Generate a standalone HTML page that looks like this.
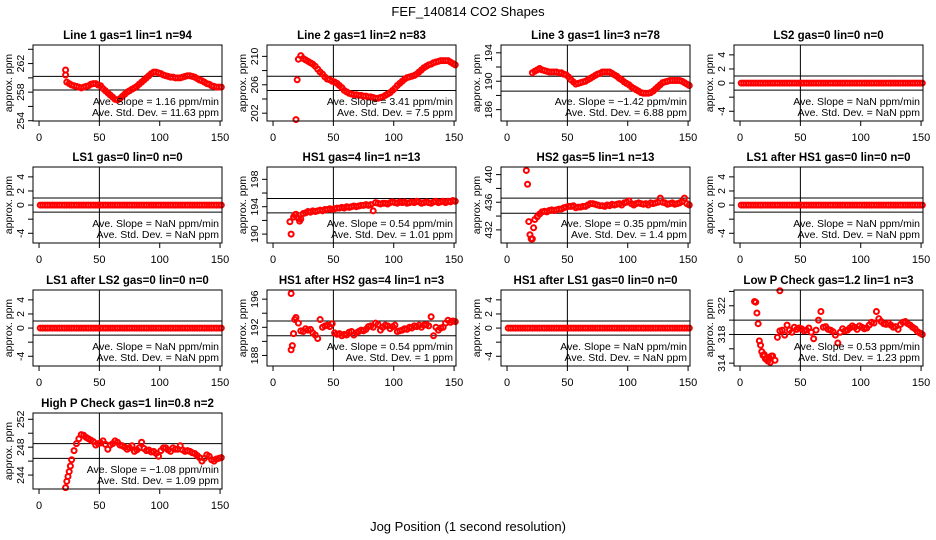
<!DOCTYPE html>
<html><head><meta charset="utf-8"><style>
html,body{margin:0;padding:0;background:#fff;}
svg{display:block;font-family:"Liberation Sans",Arial,sans-serif;}
</style></head><body>
<svg id="chart" width="936" height="540" viewBox="0 0 936 540">
<text x="468" y="16" text-anchor="middle" font-size="13">FEF_140814  CO2 Shapes</text>
<text x="468" y="531" text-anchor="middle" font-size="13">Jog Position (1 second resolution)</text>
</svg>
<script>
const jog = [1,3,5,7,9,11,13,15,17,19,21,23,25,27,29,31,33,35,37,39,41,43,45,47,49,51,53,55,57,59,61,63,65,67,69,71,73,75,77,79,81,83,85,87,89,91,93,95,97,99,101,103,105,107,109,111,113,115,117,119,121,123,125,127,129,131,133,135,137,139,141,143,145,147,149,151];
const xTicks = [0,50,100,150];
const zeroValues = [0,0,0,0,0,0,0,0,0,0,0,0,0,0,0,0,0,0,0,0,0,0,0,0,0,0,0,0,0,0,0,0,0,0,0,0,0,0,0,0,0,0,0,0,0,0,0,0,0,0,0,0,0,0,0,0,0,0,0,0,0,0,0,0,0,0,0,0,0,0,0,0,0,0,0,0];
const zeroTicks = [-4,-2,0,2,4];
const zeroTickLabels = ["-4","","0","2","4"];

const line1Values = [259.4,259.2,259.0,258.9,258.8,258.7,258.6,258.7,258.8,258.9,259.1,259.2,259.2,259.0,258.9,258.5,258.2,257.9,257.6,257.3,257.0,256.9,257.1,257.4,257.7,258.0,258.2,258.4,258.6,258.8,259.1,259.4,259.7,260.0,260.3,260.6,260.8,260.8,260.7,260.6,260.4,260.3,260.2,260.1,260.1,260.0,260.0,260.0,260.1,260.2,260.3,260.3,260.2,260.1,259.9,259.7,259.6,259.4,259.2,259.1,258.9,258.8,258.7,258.7,258.7];
const line1OutX = [22,22];
const line1OutY = [261.1,260.4];
const line1Ticks = [254,256,258,260,262,264];
const line1TickLabels = ["254","","258","","262",""];

const line2Values = [210.1,209.7,209.5,209.3,209.1,208.9,208.6,208.2,207.8,207.5,207.1,206.8,206.7,206.5,206.4,206.2,205.9,205.6,205.2,205.0,204.8,204.7,204.6,204.6,204.5,204.5,204.4,204.4,204.3,204.3,204.2,204.1,204.1,204.2,204.3,204.5,204.7,204.9,205.2,205.5,205.9,206.2,206.5,206.8,207.0,207.1,207.2,207.3,207.5,207.8,208.1,208.4,208.6,208.8,208.9,209.1,209.2,209.3,209.4,209.4,209.4,209.4,209.2,209.0,208.8];
const line2OutX = [19,20,21];
const line2OutY = [201.1,206.7,209.6];
const line2Ticks = [202,204,206,208,210];
const line2TickLabels = ["202","","206","","210"];

const line3Values = [191.2,191.4,191.6,191.8,191.6,191.5,191.4,191.3,191.3,191.3,191.3,191.2,191.2,191.0,190.9,190.6,190.2,189.9,189.6,189.7,189.8,189.9,190.0,190.2,190.4,190.6,190.8,191.0,191.1,191.3,191.3,191.3,191.3,191.1,190.9,190.7,190.4,190.2,189.9,189.7,189.5,189.2,189.0,188.8,188.6,188.4,188.3,188.3,188.3,188.4,188.6,188.9,189.2,189.5,189.8,189.9,190.0,190.1,190.1,190.1,190.1,190.1,190.0,189.8,189.6,189.4];
const line3OutX = [];
const line3OutY = [];
const line3Ticks = [186,188,190,192,194];
const line3TickLabels = ["186","","190","","194"];

const hs1Values = [190.0,192.5,192.9,192.3,192.2,193.0,193.1,193.3,193.2,193.4,193.3,193.4,193.5,193.4,193.6,193.6,193.7,193.6,193.7,193.8,193.8,193.9,193.8,194.0,193.9,194.0,194.1,194.0,194.1,194.2,194.2,194.3,194.2,194.3,193.4,194.6,194.5,194.4,194.5,194.5,194.4,194.6,194.7,194.6,194.5,194.7,194.6,194.7,194.5,194.6,194.7,194.6,194.8,194.7,194.5,194.6,194.7,194.6,194.5,194.7,194.8,194.6,194.7,194.8,194.6,194.8,194.7,194.9,194.8];
const hs1OutX = [14,18,22];
const hs1OutY = [191.8,192.8,191.9];
const hs1Ticks = [190,192,194,196,198];
const hs1TickLabels = ["190","","194","","198"];

const hs2Values = [438.6,431.3,430.7,433.5,433.9,434.3,434.6,434.7,434.6,434.8,434.9,434.8,434.9,435.0,435.0,435.2,435.3,435.4,435.4,435.5,435.2,435.3,435.3,435.4,435.4,435.6,435.8,435.8,435.7,435.6,435.5,435.5,435.4,435.6,435.5,435.7,435.6,435.7,435.8,435.6,435.9,436.0,436.2,435.8,435.6,435.8,435.9,435.8,435.7,435.8,435.6,435.9,435.8,435.9,436.0,436.6,436.0,435.9,435.7,435.8,435.9,435.7,435.8,435.9,436.1,436.6,435.8,435.6];
const hs2OutX = [16,18,20,22];
const hs2OutY = [440.6,433.2,430.7,432.3];
const hs2Ticks = [432,434,436,438,440];
const hs2TickLabels = ["432","","436","","440"];

const hs1AfterHs2Values = [191.1,193.4,192.6,191.5,191.4,191.8,191.6,191.7,191.2,190.9,190.4,193.1,192.0,192.2,192.3,192.1,192.5,191.2,191.0,191.1,190.8,191.0,190.9,191.3,191.4,190.9,191.2,191.4,191.6,191.5,191.7,192.1,192.2,192.0,192.6,192.4,191.6,192.0,192.3,192.2,191.8,192.1,192.3,191.4,191.5,191.6,191.8,191.7,192.0,191.9,192.2,192.1,192.3,192.0,192.3,192.4,192.2,193.5,190.8,192.0,191.6,191.9,192.0,192.6,193.0,192.7,192.9,192.8];
const hs1AfterHs2OutX = [15,15,16,18];
const hs1AfterHs2OutY = [196.8,188.8,189.4,193.1];
const hs1AfterHs2Ticks = [188,190,192,194,196];
const hs1AfterHs2TickLabels = ["188","","192","","196"];

const lowPValues = [322.5,319.5,316.5,315.1,314.6,314.3,314.1,315.0,314.4,317.6,318.5,318.6,317.9,319.3,318.6,318.3,319.0,318.7,318.9,318.8,318.5,318.6,318.9,318.3,317.4,318.6,320.0,321.2,319.0,319.1,318.7,318.6,318.4,317.9,316.8,318.3,318.8,318.5,318.6,318.9,319.2,319.0,318.7,319.2,319.0,318.8,318.9,319.3,319.7,319.6,321.2,320.2,319.8,319.5,319.4,319.6,319.3,319.0,319.1,318.7,319.4,319.7,319.8,319.5,319.3,319.0,318.8,318.4,318.2,318.0];
const lowPOutX = [12,14,16,18,20,22,24,26,33];
const lowPOutY = [322.6,321.0,317.1,315.6,315.2,314.6,314.8,315.0,324.1];
const lowPTicks = [314,316,318,320,322,324];
const lowPTickLabels = ["314","","318","","322",""];

const highPValues = [243.1,244.5,246.2,247.5,248.5,249.2,249.8,249.7,249.4,249.2,249.0,248.8,248.3,248.5,248.6,248.9,248.4,247.7,248.3,248.5,248.9,248.7,248.3,248.2,248.0,247.7,247.9,248.2,247.4,247.6,247.9,248.7,247.8,247.5,247.6,247.3,247.4,247.1,246.7,247.5,247.9,247.9,247.6,247.4,247.9,247.7,247.7,248.2,247.6,247.4,247.5,247.4,247.2,247.1,246.8,246.5,246.0,246.4,246.9,246.7,246.2,246.0,246.3,246.4,246.5];
const highPOutX = [22,24,26];
const highPOutY = [242.2,243.8,245.3];
const highPTicks = [244,246,248,250,252];
const highPTickLabels = ["244","","248","","252"];

const panels = [
 {name:"line-1",title:"Line 1 gas=1 lin=1 n=94",slope:"1.16",sd:"11.63",y0:253.96,y1:264.6,ticks:line1Ticks,labels:line1TickLabels,hl:[260.2,258.3],vals:line1Values,ox:line1OutX,oy:line1OutY},
 {name:"line-2",title:"Line 2 gas=1 lin=2 n=83",slope:"3.41",sd:"7.5",y0:200.9,y1:211.6,ticks:line2Ticks,labels:line2TickLabels,hl:[207.2,205.2],vals:line2Values,ox:line2OutX,oy:line2OutY},
 {name:"line-3",title:"Line 3 gas=1 lin=3 n=78",slope:"\u22121.42",sd:"6.88",y0:184.4,y1:195.1,ticks:line3Ticks,labels:line3TickLabels,hl:[190.7,188.6],vals:line3Values,ox:line3OutX,oy:line3OutY},
 {name:"ls2",title:"LS2 gas=0 lin=0 n=0",slope:"NaN",sd:"NaN",y0:-5.38,y1:5.4,ticks:zeroTicks,labels:zeroTickLabels,hl:[1,-1],vals:zeroValues,ox:[],oy:[]},
 {name:"ls1",title:"LS1 gas=0 lin=0 n=0",slope:"NaN",sd:"NaN",y0:-5.38,y1:5.4,ticks:zeroTicks,labels:zeroTickLabels,hl:[1,-1],vals:zeroValues,ox:[],oy:[]},
 {name:"hs1",title:"HS1 gas=4 lin=1 n=13",slope:"0.54",sd:"1.01",y0:188.7,y1:199.8,ticks:hs1Ticks,labels:hs1TickLabels,hl:[195.2,193.1],vals:hs1Values,ox:hs1OutX,oy:hs1OutY},
 {name:"hs2",title:"HS2 gas=5 lin=1 n=13",slope:"0.35",sd:"1.4",y0:430.1,y1:441.1,ticks:hs2Ticks,labels:hs2TickLabels,hl:[436.6,434.4],vals:hs2Values,ox:hs2OutX,oy:hs2OutY},
 {name:"ls1-after-hs1",title:"LS1 after HS1 gas=0 lin=0 n=0",slope:"NaN",sd:"NaN",y0:-5.38,y1:5.4,ticks:zeroTicks,labels:zeroTickLabels,hl:[1,-1],vals:zeroValues,ox:[],oy:[]},
 {name:"ls1-after-ls2",title:"LS1 after LS2 gas=0 lin=0 n=0",slope:"NaN",sd:"NaN",y0:-5.38,y1:5.4,ticks:zeroTicks,labels:zeroTickLabels,hl:[1,-1],vals:zeroValues,ox:[],oy:[]},
 {name:"hs1-after-hs2",title:"HS1 after HS2 gas=4 lin=1 n=3",slope:"0.54",sd:"1",y0:186.5,y1:197.3,ticks:hs1AfterHs2Ticks,labels:hs1AfterHs2TickLabels,hl:[192.9,190.8],vals:hs1AfterHs2Values,ox:hs1AfterHs2OutX,oy:hs1AfterHs2OutY},
 {name:"hs1-after-ls1",title:"HS1 after LS1 gas=0 lin=0 n=0",slope:"NaN",sd:"NaN",y0:-5.38,y1:5.4,ticks:zeroTicks,labels:zeroTickLabels,hl:[1,-1],vals:zeroValues,ox:[],oy:[]},
 {name:"low-p-check",title:"Low P Check gas=1.2 lin=1 n=3",slope:"0.53",sd:"1.23",y0:313.6,y1:324.2,ticks:lowPTicks,labels:lowPTickLabels,hl:[320.0,318.0],vals:lowPValues,ox:lowPOutX,oy:lowPOutY},
 {name:"high-p-check",title:"High P Check gas=1 lin=0.8 n=2",slope:"\u22121.08",sd:"1.09",y0:242.0,y1:252.9,ticks:highPTicks,labels:highPTickLabels,hl:[248.5,246.4],vals:highPValues,ox:highPOutX,oy:highPOutY}
];

const NS="http://www.w3.org/2000/svg";
const svg=document.getElementById('chart');
const colLeft=[33,267,501,734], rowTop=[45,167,290,413], BW=189, BH=76, XMIN=-5, XMAX=151.6;
function mk(tag,attrs,parent,txt){const e=document.createElementNS(NS,tag);for(const k in attrs)e.setAttribute(k,attrs[k]);if(txt!==undefined)e.textContent=txt;parent.appendChild(e);return e;}

panels.forEach((p,idx)=>{
  const L=colLeft[idx%4], T=rowTop[Math.floor(idx/4)];
  const sx=v=>L+(v-XMIN)/(XMAX-XMIN)*BW;
  const sy=v=>T+BH-(v-p.y0)/(p.y1-p.y0)*BH;
  const g=mk('g',{},svg);
  
  
  const t=mk('text',{x:L+BW/2,y:T-6,'text-anchor':'middle','font-size':11.5,'font-weight':'bold'},g,p.title);
  
  
  p.hl.forEach(h=>{const l=mk('line',{x1:L,x2:L+BW,y1:sy(h),y2:sy(h),stroke:'#000','stroke-width':1},g);
    
    });
  const vl=mk('line',{x1:sx(50),x2:sx(50),y1:T,y2:T+BH,stroke:'#000','stroke-width':1},g);
  
  
  const pts=mk('g',{fill:'none',stroke:'#ff0000','stroke-width':2},g);
  
  
  const off=jog.length-p.vals.length;
  p.vals.forEach((v,i)=>{const c=mk('circle',{cx:sx(jog[off+i]),cy:sy(v),r:2.5},pts);
    
    });
  p.ox.forEach((x,i)=>{const c=mk('circle',{cx:sx(x),cy:sy(p.oy[i]),r:2.5},pts);
    
    });
  const b=mk('rect',{x:L,y:T,width:BW,height:BH,fill:'none',stroke:'#000','stroke-width':1},g);
  
  
  const xa=mk('g',{},g);
  
  
  mk('line',{x1:sx(xTicks[0]),x2:sx(xTicks[xTicks.length-1]),y1:T+BH,y2:T+BH,stroke:'#000'},xa);
  xTicks.forEach(v=>{mk('line',{x1:sx(v),x2:sx(v),y1:T+BH,y2:T+BH+5,stroke:'#000'},xa);
    const tl=mk('text',{x:sx(v),y:T+BH+20,'text-anchor':'middle','font-size':11},xa,String(v));
    
    });
  const ya=mk('g',{},g);
  
  
  mk('line',{x1:L,x2:L,y1:sy(p.ticks[0]),y2:sy(p.ticks[p.ticks.length-1]),stroke:'#000'},ya);
  p.ticks.forEach((v,i)=>{mk('line',{x1:L-5,x2:L,y1:sy(v),y2:sy(v),stroke:'#000'},ya);
    if(p.labels[i]){const yl=mk('text',{x:L-9,y:sy(v),'text-anchor':'middle','font-size':10.5,transform:`rotate(-90 ${L-9} ${sy(v)})`},ya,p.labels[i]);
      
      }});
  const yt=mk('text',{x:L-21,y:T+BH/2,'text-anchor':'middle','font-size':10.5,transform:`rotate(-90 ${L-21} ${T+BH/2})`},g,'approx. ppm');
  
  
  const s1=mk('text',{x:L+BW-3,y:T+60,'text-anchor':'end','font-size':10.5,'xml:space':'preserve'},g,'Ave. Slope =  '+p.slope+'  ppm/min');
  
  
  const s2=mk('text',{x:L+BW-3,y:T+71,'text-anchor':'end','font-size':10.5,'xml:space':'preserve'},g,'Ave. Std. Dev. =  '+p.sd+'  ppm');
  
  
});
</script>
</body></html>
